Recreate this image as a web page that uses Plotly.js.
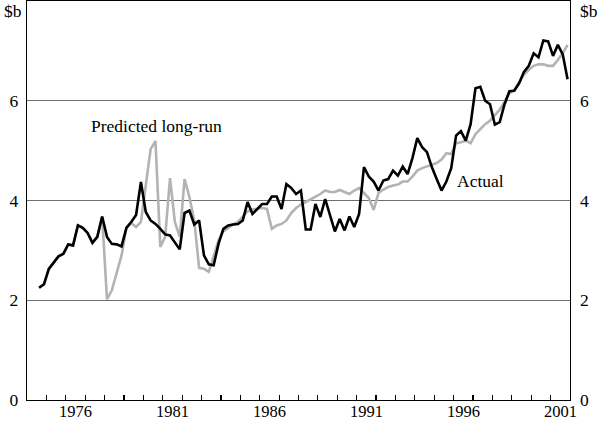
<!DOCTYPE html>
<html>
<head>
<meta charset="utf-8">
<script src="https://cdn.plot.ly/plotly-3.0.1.min.js"></script>
<style>html,body{margin:0;padding:0;background:#fff;}#chart{width:600px;height:422px;}</style>
</head>
<body>
<div id="chart"></div>
<script>
// Quarterly series, first observation 1974 Q3, last 2001 Q4 ($b)
var firstYear = 1974.625;
var actual = [
  2.25, 2.32, 2.63, 2.75, 2.88, 2.93, 3.12, 3.10, 3.50, 3.45,
  3.35, 3.15, 3.27, 3.68, 3.27, 3.13, 3.12, 3.08, 3.45, 3.57,
  3.71, 4.37, 3.77, 3.60, 3.53, 3.43, 3.32, 3.30, 3.15, 3.02,
  3.75, 3.80, 3.52, 3.60, 2.90, 2.72, 2.70, 3.13, 3.43, 3.50,
  3.52, 3.53, 3.60, 3.97, 3.73, 3.82, 3.93, 3.93, 4.08, 4.08,
  3.83, 4.33, 4.25, 4.13, 4.20, 3.42, 3.42, 3.93, 3.67, 4.03,
  3.70, 3.38, 3.63, 3.40, 3.68, 3.47, 3.73, 4.67, 4.48, 4.38,
  4.20, 4.40, 4.43, 4.60, 4.50, 4.68, 4.53, 4.85, 5.25, 5.07,
  4.97, 4.67, 4.43, 4.20, 4.38, 4.65, 5.30, 5.39, 5.20, 5.53,
  6.25, 6.28, 6.00, 5.93, 5.52, 5.57, 5.93, 6.19, 6.20, 6.35,
  6.58, 6.70, 6.95, 6.87, 7.21, 7.19, 6.90, 7.12, 6.93, 6.43
];
var predicted = [
  2.25, 2.32, 2.63, 2.75, 2.88, 2.93, 3.12, 3.10, 3.50, 3.45,
  3.35, 3.15, 3.27, 3.68, 2.02, 2.20, 2.58, 2.90, 3.45, 3.55,
  3.47, 3.57, 4.30, 5.03, 5.19, 3.07, 3.27, 4.45, 3.57, 3.27,
  4.43, 4.07, 3.60, 2.65, 2.63, 2.57, 2.88, 3.20, 3.38, 3.45,
  3.52, 3.57, 3.68, 3.78, 3.82, 3.83, 3.85, 3.83, 3.43, 3.50,
  3.53, 3.60, 3.75, 3.85, 3.92, 3.97, 4.02, 4.07, 4.13, 4.20,
  4.17, 4.17, 4.21, 4.17, 4.13, 4.20, 4.25, 4.15, 4.05, 3.81,
  4.15, 4.22, 4.27, 4.30, 4.32, 4.38, 4.38, 4.48, 4.60, 4.65,
  4.68, 4.72, 4.75, 4.82, 4.95, 4.93, 5.15, 5.17, 5.20, 5.15,
  5.33, 5.43, 5.53, 5.60, 5.70, 5.82, 5.98, 6.15, 6.22, 6.37,
  6.52, 6.62, 6.70, 6.73, 6.73, 6.70, 6.70, 6.82, 6.95, 7.12
];
var yearLabels = ['1976', '1981', '1986', '1991', '1996', '2001'];
var yTickVals = [0, 2, 4, 6];
var yTickText = ['0', '2', '4', '6'];
var unitLabel = '$b';

var quarters = [];
for (var i = 0; i < actual.length; i++) quarters.push(firstYear + 0.25 * i);
var yearTicks = [];
for (var yr = 1975; yr <= 2001; yr++) yearTicks.push(yr);

var font = {family: 'Liberation Serif', size: 17.5, color: '#000'};
var xFont = {family: 'Liberation Serif', size: 16.5, color: '#000'};

var traces = [
  {x: quarters, y: predicted, type: 'scatter', mode: 'lines', name: 'Predicted long-run',
   line: {color: '#b3b3b3', width: 2.6}, hoverinfo: 'skip'},
  {x: quarters, y: actual, type: 'scatter', mode: 'lines', name: 'Actual',
   line: {color: '#000000', width: 2.6}, hoverinfo: 'skip'}
];

var annotations = [
  {xref: 'x', yref: 'y', x: 1980.69, y: 5.5, text: 'Predicted long-run', showarrow: false, font: font, xanchor: 'center', yanchor: 'middle'},
  {xref: 'x', yref: 'y', x: 1997.4, y: 4.4, text: 'Actual', showarrow: false, font: font, xanchor: 'center', yanchor: 'middle'},
  {xref: 'paper', yref: 'y', x: 0, y: 8, text: unitLabel, showarrow: false, font: font, xanchor: 'right', yanchor: 'top', xshift: -3, yshift: 2},
  {xref: 'paper', yref: 'y', x: 1, y: 8, text: unitLabel, showarrow: false, font: font, xanchor: 'left', yanchor: 'top', xshift: 8, yshift: 2}
];
// year labels centred within each labelled year
yearLabels.forEach(function (lab) {
  annotations.push({xref: 'x', yref: 'paper', x: Number(lab) + 0.5, y: 0, text: lab, showarrow: false,
    font: xFont, xanchor: 'center', yanchor: 'top', yshift: -1, borderpad: 0});
});
// right-hand axis labels
yTickVals.forEach(function (v, k) {
  annotations.push({xref: 'paper', yref: 'y', x: 1, y: v, text: yTickText[k], showarrow: false,
    font: font, xanchor: 'left', yanchor: 'middle', xshift: 8});
});

var layout = {
  width: 600, height: 422,
  margin: {l: 27, r: 30, t: 1, b: 22, pad: 0},
  paper_bgcolor: '#fff', plot_bgcolor: '#fff',
  showlegend: false,
  font: font,
  xaxis: {
    range: [1974, 2002], tickmode: 'array', tickvals: yearTicks,
    showticklabels: false, ticks: 'inside', ticklen: 5, tickwidth: 1.2, tickcolor: '#000',
    showgrid: false, zeroline: false,
    showline: true, mirror: true, linecolor: '#000', linewidth: 1.3
  },
  yaxis: {
    range: [0, 8], tickmode: 'array', tickvals: yTickVals.concat([8]), ticktext: yTickText.concat(['']),
    ticks: '', showgrid: true, gridcolor: '#6e6e6e', gridwidth: 1, zeroline: false,
    showline: true, mirror: true, linecolor: '#000', linewidth: 1.3,
    tickfont: font, ticklabelstandoff: 4
  },
  annotations: annotations
};

Plotly.newPlot('chart', traces, layout, {staticPlot: true, displayModeBar: false});
</script>
</body>
</html>
